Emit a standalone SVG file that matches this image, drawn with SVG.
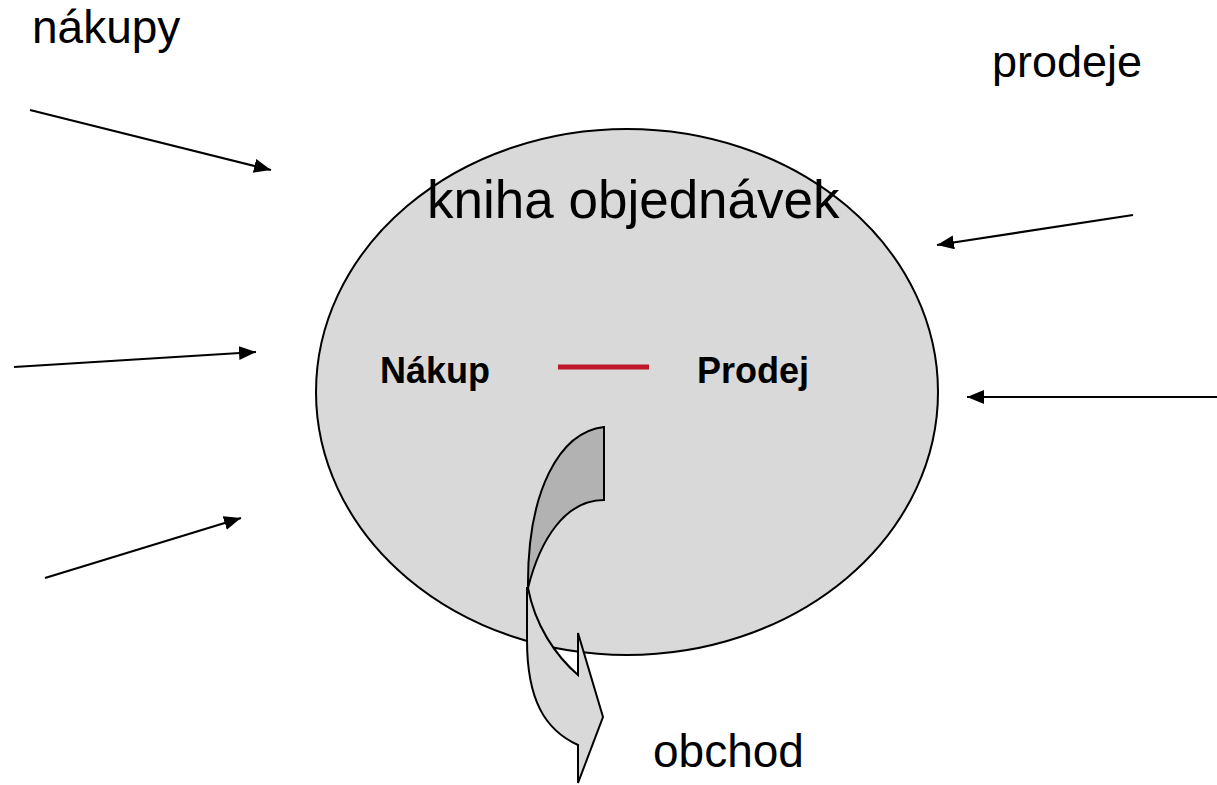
<svg xmlns="http://www.w3.org/2000/svg" width="1217" height="785" viewBox="0 0 1217 785">
<style>
.t{font-family:"Liberation Sans",Arial,sans-serif;fill:#000}
.b{font-weight:bold}
.c{stroke:#000;stroke-width:2.2;fill:none;marker-end:url(#ah)}
</style>
<defs>
<marker id="ah" markerUnits="userSpaceOnUse" markerWidth="18" markerHeight="16" refX="17" refY="7" orient="auto">
<path d="M0,0 L17,7 L0,14 z" fill="#000"/>
</marker>
</defs>
<rect width="1217" height="785" fill="#fff"/>
<g id="book">
<ellipse cx="627" cy="392" rx="311" ry="263" fill="#d9d9d9" stroke="#000" stroke-width="2"/>
<text class="t" x="427" y="218" font-size="53">kniha objednávek</text>
</g>
<g id="nakup">
<text class="t b" x="380" y="383" font-size="36">Nákup</text>
</g>
<g id="prodej">
<text class="t b" x="697" y="383" font-size="36">Prodej</text>
</g>
<g id="link">
<line x1="558" y1="367" x2="649" y2="367" stroke="#c0182a" stroke-width="5"/>
</g>
<g id="trade-arrow">
<path d="M528,588 C535,625 555,655 578,675 L578,633 L603,717 L578,783 L578,745 C545,730 527,700 527,640 L527,588 Z" fill="#d9d9d9" stroke="#000" stroke-width="2" stroke-linejoin="miter"/>
<path d="M604,427 C560,432 527,490 528,588 C540,540 565,500 604,500 Z" fill="#b2b2b2" stroke="#000" stroke-width="2"/>
</g>
<g id="labels">
<text class="t" x="32" y="43" font-size="46">nákupy</text>
<text class="t" x="992" y="77" font-size="45">prodeje</text>
<text class="t" x="653" y="767" font-size="46">obchod</text>
</g>
<g id="connectors">
<line class="c" x1="30" y1="110" x2="271" y2="170"/>
<line class="c" x1="14" y1="367" x2="256" y2="352"/>
<line class="c" x1="45" y1="578" x2="241" y2="518"/>
<line class="c" x1="1133" y1="215" x2="937" y2="245"/>
<line class="c" x1="1217" y1="397" x2="967" y2="397"/>
</g>
</svg>
